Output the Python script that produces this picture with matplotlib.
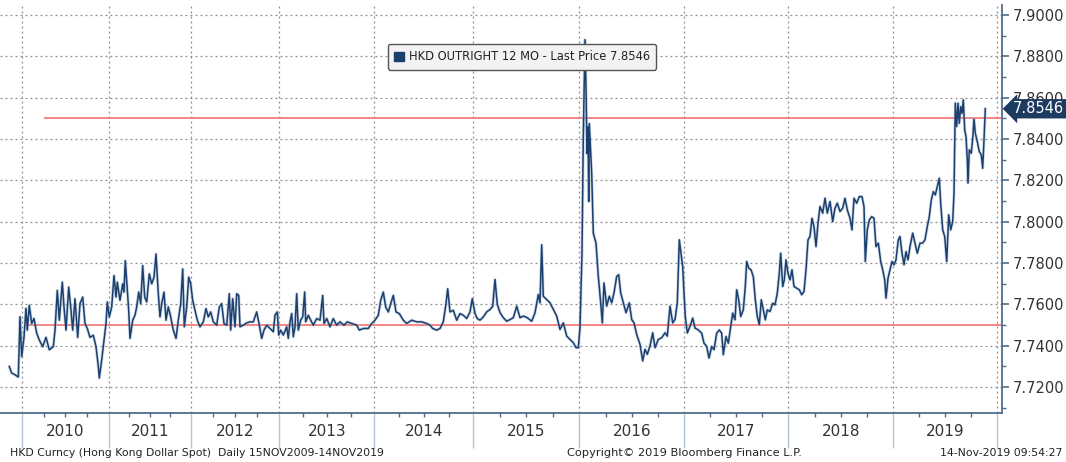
import matplotlib
matplotlib.use("Agg")
import matplotlib.pyplot as plt
import matplotlib.transforms as mtransforms
from matplotlib.patches import Patch
from matplotlib.ticker import MultipleLocator, FormatStrFormatter, FixedLocator

# --- data ---------------------------------------------------------------
# position along the chart's observation axis, and HKD 12M outright price
pos = [
    9.3, 11.7, 15.0, 18.3, 20.0, 21.7, 24.0, 26.0, 27.3, 29.3, 31.7, 34.0, 36.7, 39.3,
    42.7, 46.0, 49.3, 53.3, 55.0, 57.3, 59.3, 62.3, 64.0, 66.0, 68.7, 70.7, 72.7, 75.0,
    77.7, 80.0, 82.7, 85.0, 87.3, 90.0, 93.3, 96.0, 98.3, 99.3, 101.7, 104.0, 106.0,
    107.3, 109.3, 111.7, 114.0, 116.0, 117.3, 120.0, 122.7, 124.0, 125.3, 127.3, 128.7,
    130.0, 132.7, 135.0, 136.7, 138.7, 140.7, 142.7, 144.7, 146.7, 149.3, 151.7, 154.0,
    156.0, 158.3, 160.0, 161.7, 164.0, 166.0, 168.3, 170.7, 173.3, 176.0, 178.3, 180.7,
    182.7, 184.3, 186.7, 188.7, 190.7, 192.7, 195.0, 197.3, 200.0, 203.3, 206.0, 208.3,
    210.7, 213.3, 216.7, 219.3, 221.7, 224.0, 226.7, 229.3, 230.7, 232.7, 235.0, 236.7,
    238.7, 240.0, 243.3, 246.7, 250.0,
    253.3, 256.7, 259.3, 261.7, 264.0, 266.7, 270.0, 273.3, 275.0, 277.3, 278.7, 280.7,
    283.3, 286.7, 288.3, 290.0, 291.7, 293.3, 295.0, 296.7, 298.3, 300.7, 302.7, 304.7,
    305.7, 308.3, 310.7, 313.3, 316.7, 320.0, 322.7, 324.0, 326.7, 330.0, 333.3, 336.7,
    340.0, 344.0, 347.3, 351.7, 356.7, 359.3, 363.3, 368.3, 371.7, 375.0, 378.3, 380.7,
    383.3, 385.7, 388.3, 390.7, 393.3, 396.0, 399.3, 403.3, 406.7, 411.7, 416.7, 421.7,
    426.7, 430.0, 432.7, 436.7, 440.0, 443.3, 446.0, 447.7, 450.0, 453.3, 456.7, 460.0,
    463.3, 466.7, 470.0, 472.3, 475.0, 477.3, 480.0, 483.3, 486.7, 490.0, 492.7, 495.0,
    497.3, 500.0,
    503.3, 506.7, 510.0, 513.3, 516.7, 520.0, 523.3, 527.3, 531.7, 535.0, 538.3, 540.0,
    541.7, 543.3, 546.7, 550.0, 553.3, 556.7, 560.0, 563.3, 566.7, 570.0, 573.3, 576.0,
    578.3, 580.0, 582.0, 583.3, 585.0, 586.0, 587.0, 588.0, 588.7, 589.3, 590.7, 591.7,
    593.3, 596.0, 598.3, 600.7, 602.3, 604.0, 606.7, 609.3, 611.7, 614.0, 616.7, 618.7,
    620.7, 623.3, 626.0, 629.3, 631.7, 634.0, 636.7, 640.0, 642.7, 645.0, 647.3, 650.0,
    652.7, 655.0, 658.3, 661.7, 665.0, 667.3, 670.0, 672.7, 675.0, 677.3, 679.3,
    682.7, 684.0, 685.3, 687.3, 690.0, 692.7, 695.0, 698.3, 701.7, 704.0, 706.7, 709.0,
    711.7, 714.0, 716.7, 719.3, 721.7, 723.3, 726.0, 728.3, 730.7, 732.7, 735.0, 736.7,
    738.7, 740.7, 743.3, 745.3, 746.7, 748.7, 751.0, 753.3, 755.3, 757.3, 759.3, 761.3,
    763.3, 765.3, 767.3, 770.0, 772.7, 775.0, 777.3, 779.3, 780.7, 782.7, 784.3, 786.0,
    788.0, 790.0, 792.0, 794.0, 796.7, 799.3, 801.7, 804.0, 806.0, 808.0, 810.0, 812.0,
    814.0, 816.0, 818.0, 820.0, 822.7, 825.0, 827.3, 830.0, 832.7, 835.0, 837.3, 840.0,
    842.7, 845.0, 847.3, 850.0, 852.0, 854.0, 856.7, 859.3, 862.0, 864.0, 865.3, 867.3,
    869.3, 871.7, 874.0, 876.0, 878.3, 880.7, 882.7, 884.7, 886.0, 888.0, 890.0, 892.0,
    894.0, 896.0, 898.3, 900.0, 902.0, 904.0, 906.0, 908.0, 910.0, 912.7, 915.0, 917.3,
    920.0, 922.7, 925.0, 927.3, 929.3, 931.3, 933.3, 935.3, 937.3, 939.3, 940.7, 942.7,
    944.7, 946.7, 948.7, 950.7, 952.7, 954.0, 955.3, 956.7, 958.0, 959.3, 960.7, 962.0,
    963.3, 964.7, 966.0, 967.3, 968.0, 969.3, 971.3, 972.7, 974.0, 975.3, 977.3, 979.3,
    981.3, 982.7, 984.0, 985.3,
]
hkd = [
    7.7299, 7.7267, 7.7259, 7.7248, 7.7540, 7.7347, 7.7440, 7.7580, 7.7475, 7.7595, 7.7507, 7.7531, 7.7460, 7.7427,
    7.7395, 7.7440, 7.7380, 7.7395, 7.7475, 7.7667, 7.7523, 7.7707, 7.7587, 7.7475, 7.7683, 7.7587, 7.7475, 7.7627,
    7.7440, 7.7603, 7.7635, 7.7507, 7.7483, 7.7440, 7.7450, 7.7395, 7.7300, 7.7243, 7.7331, 7.7427, 7.7507,
    7.7611, 7.7539, 7.7587, 7.7739, 7.7635, 7.7707, 7.7619, 7.7699, 7.7659, 7.7811, 7.7667, 7.7571,
    7.7435, 7.7523, 7.7547, 7.7587, 7.7659, 7.7603, 7.7787, 7.7635, 7.7611, 7.7747, 7.7699, 7.7731,
    7.7843, 7.7651, 7.7539, 7.7603, 7.7659, 7.7523, 7.7587, 7.7539, 7.7475, 7.7435, 7.7523, 7.7603,
    7.7771, 7.7491, 7.7587, 7.7731, 7.7699, 7.7619, 7.7571, 7.7523, 7.7491, 7.7515, 7.7579, 7.7539,
    7.7563, 7.7515, 7.7499, 7.7587, 7.7603, 7.7507, 7.7499, 7.7651, 7.7475, 7.7627, 7.7491, 7.7651,
    7.7643, 7.7491, 7.7499, 7.7510, 7.7515,
    7.7515, 7.7563, 7.7499, 7.7435, 7.7475, 7.7499, 7.7483, 7.7467, 7.7547, 7.7563, 7.7451, 7.7475,
    7.7451, 7.7491, 7.7435, 7.7515, 7.7555, 7.7443, 7.7491, 7.7651, 7.7475, 7.7523, 7.7539, 7.7659,
    7.7515, 7.7547, 7.7523, 7.7499, 7.7531, 7.7523, 7.7643, 7.7507, 7.7531, 7.7491, 7.7531, 7.7499,
    7.7515, 7.7499, 7.7515, 7.7507, 7.7499, 7.7475, 7.7483, 7.7483, 7.7507, 7.7523, 7.7547, 7.7619,
    7.7659, 7.7587, 7.7563, 7.7603, 7.7643, 7.7563, 7.7555, 7.7523, 7.7507, 7.7523, 7.7515, 7.7515,
    7.7507, 7.7499, 7.7483, 7.7475, 7.7483, 7.7515, 7.7603, 7.7675, 7.7563, 7.7571, 7.7523, 7.7555,
    7.7547, 7.7531, 7.7563, 7.7627, 7.7555, 7.7531, 7.7523, 7.7539, 7.7563, 7.7575, 7.7590, 7.7720,
    7.7600, 7.7560,
    7.7535, 7.7518, 7.7526, 7.7535, 7.7591, 7.7535, 7.7543, 7.7535, 7.7518, 7.7559, 7.7647, 7.7607,
    7.7888, 7.7639, 7.7623, 7.7607, 7.7575, 7.7543, 7.7478, 7.7510, 7.7446, 7.7430, 7.7414, 7.7390,
    7.7390, 7.7486, 7.7848, 7.8410, 7.8880, 7.8651, 7.8329, 7.8458, 7.8097, 7.8474, 7.8329, 7.8233,
    7.7944, 7.7896, 7.7735, 7.7607, 7.7510, 7.7703, 7.7591, 7.7639, 7.7607, 7.7655, 7.7735, 7.7743,
    7.7655, 7.7607, 7.7559, 7.7607, 7.7526, 7.7510, 7.7454, 7.7406, 7.7326, 7.7382, 7.7358, 7.7398,
    7.7462, 7.7390, 7.7430, 7.7438, 7.7462, 7.7446, 7.7591, 7.7510, 7.7526, 7.7607, 7.7912,
    7.7783, 7.7654, 7.7541, 7.7461, 7.7493, 7.7533, 7.7485, 7.7476, 7.7460, 7.7412, 7.7396, 7.7340,
    7.7396, 7.7380, 7.7460, 7.7476, 7.7460, 7.7356, 7.7444, 7.7412, 7.7493, 7.7557, 7.7525, 7.7670,
    7.7622, 7.7541, 7.7573, 7.7686, 7.7807, 7.7775, 7.7767, 7.7734, 7.7622, 7.7541, 7.7501, 7.7622,
    7.7573, 7.7525, 7.7573, 7.7565, 7.7605, 7.7597, 7.7654, 7.7750, 7.7847, 7.7686, 7.7718, 7.7815,
    7.7750, 7.7718, 7.7767, 7.7686, 7.7678, 7.7670, 7.7646, 7.7662, 7.7767, 7.7912, 7.7928, 7.8016,
    7.7976, 7.7879, 7.7992, 7.8073, 7.8041, 7.8113, 7.8041, 7.8097, 7.8000, 7.8065, 7.8089, 7.8049,
    7.8065, 7.8113, 7.8057, 7.8016, 7.7960, 7.8113, 7.8089, 7.8121, 7.8121, 7.8073, 7.7807, 7.7960,
    7.8008, 7.8024, 7.8016, 7.7879, 7.7896, 7.7807, 7.7767, 7.7718, 7.7630, 7.7726, 7.7767, 7.7807,
    7.7791, 7.7815, 7.7912, 7.7928, 7.7847, 7.7791, 7.7855, 7.7815, 7.7879, 7.7944, 7.7896, 7.7847,
    7.7896, 7.7896, 7.7912, 7.7976, 7.8024, 7.8105, 7.8145, 7.8129, 7.8170, 7.8210, 7.8089, 7.7960,
    7.7928, 7.7807, 7.8033, 7.7960, 7.8000, 7.8137, 7.8573, 7.8460, 7.8573, 7.8476, 7.8556, 7.8524,
    7.8589, 7.8444, 7.8411, 7.8299, 7.8186, 7.8347, 7.8331, 7.8403, 7.8495, 7.8428, 7.8387, 7.8339,
    7.8323, 7.8258, 7.8395, 7.8546,
]
years = ["2010", "2011", "2012", "2013", "2014", "2015", "2016", "2017", "2018", "2019"]
year_edges = [22.3, 108.7, 191.0, 279.3, 374.5, 473.3, 579.3, 684.5, 788.3, 893.3, 997.0]
ref_levels = [7.85, 7.75]
last_price = 7.8546

navy = "#1b3f6e"
axis_col = "#4d6d8e"
red = "#f37b7b"

fig = plt.figure(figsize=(10.66, 4.62), dpi=100)
ax = fig.add_axes([0, 1 - 413 / 462, 1002 / 1066, 408 / 462])

ax.set_xlim(0, 1002)
ax.set_ylim(7.7074, 7.9048)

# grid
ax.yaxis.set_major_locator(MultipleLocator(0.02))
ax.yaxis.set_minor_locator(MultipleLocator(0.01))
ax.grid(axis="y", which="major", color="#8a8a8a", linestyle=(0, (1.5, 2.5)), linewidth=0.9)
for e in year_edges:
    ax.axvline(e, color="#8a8a8a", linestyle=(0, (1.5, 2.5)), linewidth=0.9, zorder=1)

# reference lines
ax.hlines(ref_levels[0], 44, 1002, color=red, linewidth=1.3, zorder=2)
ax.hlines(ref_levels[1], 27, 1002, color=red, linewidth=1.3, zorder=2)

# price line
ax.plot(pos, hkd, color="#9fb4cc", linewidth=2.2, alpha=0.5, zorder=3)
ax.plot(pos, hkd, color=navy, linewidth=1.1, zorder=4)

# spines
for s in ["top", "left"]:
    ax.spines[s].set_visible(False)
for s in ["right", "bottom"]:
    ax.spines[s].set_color(axis_col)
    ax.spines[s].set_linewidth(1.3)

# y axis on the right
ax.yaxis.tick_right()
ax.yaxis.set_major_formatter(FormatStrFormatter("%.4f"))
ax.tick_params(axis="y", which="major", length=5, width=1.2, color=axis_col,
               labelsize=10.5, labelcolor="#333333", pad=3)
ax.tick_params(axis="y", which="minor", length=3, width=1.0, color=axis_col)
ax.tick_params(axis="y", which="both", left=False)

# x axis: year separators and quarter ticks
quarters = []
for a, b in zip(year_edges[:-1], year_edges[1:]):
    quarters += [a + (b - a) * k / 4 for k in (1, 2, 3)]
ax.xaxis.set_major_locator(FixedLocator(year_edges))
ax.xaxis.set_minor_locator(FixedLocator(quarters))
ax.tick_params(axis="x", which="major", length=25, width=1.0, color="#b3c3d3",
               labelbottom=False)
ax.tick_params(axis="x", which="minor", length=3, width=1.0, color=axis_col)

xtr = ax.get_xaxis_transform()
for i, y in enumerate(years):
    mid = (year_edges[i] + year_edges[i + 1]) / 2
    ax.text(mid, -19 / 408, y, transform=xtr, ha="center", va="center",
            fontsize=11, color="#333333")

# last price tag on the axis (drawn over the 7.8600 label, as in the original)
btr = mtransforms.blended_transform_factory(ax.transAxes, ax.transData)
ax.text(1013 / 1002, last_price, f"{last_price:.4f}", transform=btr,
        ha="left", va="center", fontsize=10.5, color="white", zorder=6,
        bbox=dict(boxstyle="larrow,pad=0.15", fc="#1d3b60", ec="none"),
        clip_on=False)

# legend box
leg = ax.legend(handles=[Patch(facecolor=navy, edgecolor=navy)],
                labels=[f"HKD OUTRIGHT 12 MO - Last Price {last_price:.4f}"],
                loc="upper left", bbox_to_anchor=(388 / 1066, 1 - 44 / 462),
                bbox_transform=fig.transFigure, fancybox=True, framealpha=1,
                facecolor="#f3f3f3", edgecolor="#555555", fontsize=8.3,
                handlelength=0.8, handleheight=0.8, handletextpad=0.45,
                borderpad=0.55, borderaxespad=0)
leg.get_frame().set_linewidth(1.0)
for t in leg.get_texts():
    t.set_color("#222222")

# footer
fig.text(10 / 1066, 1 - 453 / 462, "HKD Curncy (Hong Kong Dollar Spot)  Daily 15NOV2009-14NOV2019",
         fontsize=7.8, color="#222222", va="center", ha="left")
fig.text(684 / 1066, 1 - 453 / 462, "Copyright\u00a9 2019 Bloomberg Finance L.P.",
         fontsize=8.2, color="#222222", va="center", ha="center")
fig.text(1062 / 1066, 1 - 453 / 462, "14-Nov-2019 09:54:27",
         fontsize=7.8, color="#222222", va="center", ha="right")

fig.savefig("out.png", dpi=100)
